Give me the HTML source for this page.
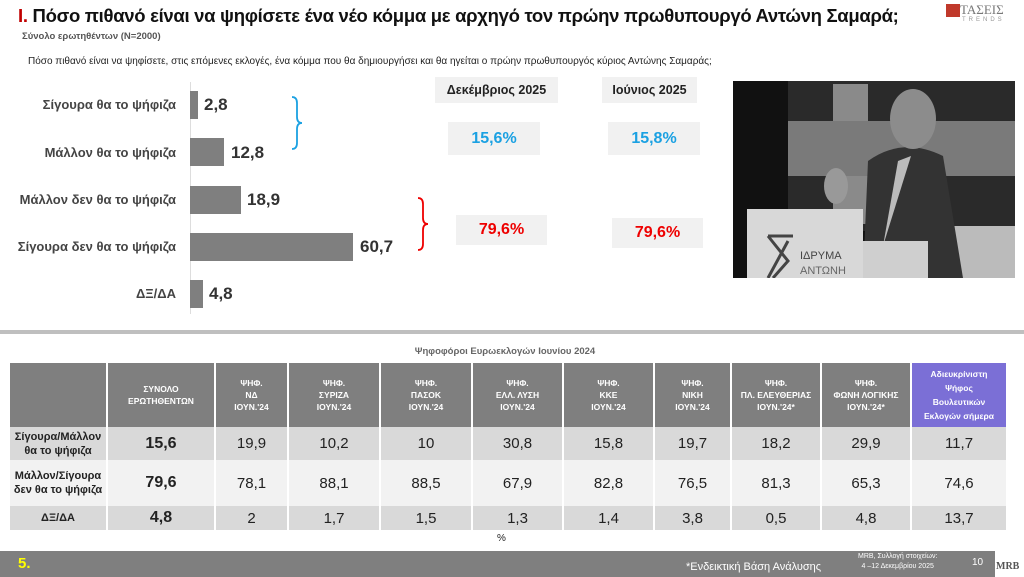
<!DOCTYPE html>
<html><head><meta charset="utf-8"><style>
*{margin:0;padding:0;box-sizing:border-box}
body{width:1024px;height:577px;position:relative;background:#fff;font-family:"Liberation Sans","DejaVu Sans",sans-serif;overflow:hidden;color:#222}
.a{position:absolute}
.lbl{position:absolute;right:848px;font-size:13px;font-weight:bold;color:#444;text-align:right;white-space:nowrap}
.bar{position:absolute;left:190px;background:#7f7f7f;height:28px}
.val{position:absolute;font-size:17px;font-weight:bold;color:#333}
.box{position:absolute;background:#f1f1f1;text-align:center;font-weight:bold}
table{position:absolute;left:10px;top:363px;border-collapse:collapse;table-layout:fixed}
td{text-align:center;border-right:2px solid #fff;padding:0;color:#222}
tr.h td{background:#7f7f7f;color:#fff;font-size:8.5px;font-weight:bold;height:64px;line-height:12px}
tr.r1 td{background:#d9d9d9;height:33px;font-size:15px}
tr.r2 td{background:#f2f2f2;height:46px;font-size:15px}
tr.r3 td{background:#d9d9d9;height:24px;font-size:15px}
tr td.rl{font-size:11px;font-weight:bold;line-height:14px}
tr td.b{font-weight:bold;font-size:16px}
</style></head><body>
<div class="a" style="left:18px;top:5px;font-size:18.5px;font-weight:bold;color:#111;letter-spacing:-0.3px;white-space:nowrap"><span style="color:#c00000">I.</span> Πόσο πιθανό είναι να ψηφίσετε ένα νέο κόμμα με αρχηγό τον πρώην πρωθυπουργό Αντώνη Σαμαρά;</div>
<div class="a" style="left:22px;top:31px;font-size:9.5px;font-weight:bold;color:#555">Σύνολο ερωτηθέντων (N=2000)</div>
<div class="a" style="left:28px;top:56px;font-size:10px;color:#222;white-space:nowrap">Πόσο πιθανό είναι να ψηφίσετε, στις επόμενες εκλογές, ένα κόμμα που θα δημιουργήσει και θα ηγείται ο πρώην πρωθυπουργός κύριος Αντώνης Σαμαράς;</div>
<div class="a" style="left:946px;top:4px;width:14px;height:13px;background:#c0392b"></div>
<div class="a" style="left:960px;top:2px;font-size:13px;font-family:'Liberation Serif',serif;color:#777">ΤΑΣΕΙΣ</div>
<div class="a" style="left:962px;top:17px;font-size:6px;letter-spacing:3px;color:#999">TRENDS</div>

<div class="a" style="left:190px;top:82px;width:1px;height:232px;background:#ddd"></div>
<div class="lbl" style="top:97px">Σίγουρα θα το ψήφιζα</div>
<div class="lbl" style="top:145px">Μάλλον θα το ψήφιζα</div>
<div class="lbl" style="top:192px">Μάλλον δεν θα το ψήφιζα</div>
<div class="lbl" style="top:239px">Σίγουρα δεν θα το ψήφιζα</div>
<div class="lbl" style="top:286px">ΔΞ/ΔΑ</div>
<div class="bar" style="top:91px;width:8px"></div><div class="val" style="left:204px;top:95px">2,8</div>
<div class="bar" style="top:138px;width:34px"></div><div class="val" style="left:231px;top:143px">12,8</div>
<div class="bar" style="top:186px;width:51px"></div><div class="val" style="left:247px;top:190px">18,9</div>
<div class="bar" style="top:233px;width:163px"></div><div class="val" style="left:360px;top:237px">60,7</div>
<div class="bar" style="top:280px;width:13px"></div><div class="val" style="left:209px;top:284px">4,8</div>
<svg class="a" style="left:290px;top:95px" width="14" height="56"><path d="M2 2 Q7 2 7 8 L7 22 Q7 28 12 28 Q7 28 7 34 L7 48 Q7 54 2 54" fill="none" stroke="#1ba1e2" stroke-width="1.8"/></svg>
<svg class="a" style="left:416px;top:196px" width="14" height="56"><path d="M2 2 Q7 2 7 8 L7 22 Q7 28 12 28 Q7 28 7 34 L7 48 Q7 54 2 54" fill="none" stroke="#e00" stroke-width="1.8"/></svg>

<div class="box" style="left:435px;top:77px;width:123px;height:26px;line-height:26px;font-size:12.5px;color:#222">Δεκέμβριος 2025</div>
<div class="box" style="left:602px;top:77px;width:95px;height:26px;line-height:26px;font-size:12.5px;color:#222">Ιούνιος 2025</div>
<div class="box" style="left:448px;top:122px;width:92px;height:33px;line-height:33px;font-size:16px;color:#1ba1e2">15,6%</div>
<div class="box" style="left:608px;top:122px;width:92px;height:33px;line-height:33px;font-size:16px;color:#1ba1e2">15,8%</div>
<div class="box" style="left:456px;top:215px;width:91px;height:30px;line-height:30px;font-size:16px;color:#e00">79,6%</div>
<div class="box" style="left:612px;top:218px;width:91px;height:30px;line-height:30px;font-size:16px;color:#e00">79,6%</div>

<svg class="a" style="left:733px;top:81px" width="282" height="197">
<rect width="282" height="197" fill="#111"/>
<rect x="55" y="0" width="227" height="150" fill="#2a2a2a"/>
<rect x="100" y="3" width="35" height="140" fill="#8a8a8a"/>
<rect x="55" y="40" width="227" height="55" fill="#7a7a7a"/>
<rect x="210" y="145" width="72" height="52" fill="#bbb"/>
<path d="M130 197 L135 80 Q170 55 210 75 L230 197Z" fill="#333"/>
<ellipse cx="180" cy="38" rx="23" ry="30" fill="#8c8c8c"/>
<path d="M165 80 L178 75 L150 165 Z" fill="#bbb"/>
<ellipse cx="103" cy="105" rx="12" ry="18" fill="#999"/>
<rect x="14" y="128" width="116" height="69" fill="#d8d8d8"/>
<rect x="130" y="160" width="65" height="37" fill="#cfcfcf"/>
<path d="M35 155 L60 155 M35 155 L55 180 L40 197 M55 160 L35 197" stroke="#444" stroke-width="3" fill="none"/>
<text x="67" y="178" font-size="11" fill="#444" font-family="Liberation Sans">ΙΔΡΥΜΑ</text>
<text x="67" y="193" font-size="11" fill="#666" font-family="Liberation Sans">ΑΝΤΩΝΗ</text>
</svg>

<div class="a" style="left:0;top:330px;width:1024px;height:4px;background:#bfbfbf"></div>
<div class="a" style="left:0;top:346px;width:1010px;text-align:center;font-size:9.5px;font-weight:bold;color:#666">Ψηφοφόροι Ευρωεκλογών Ιουνίου 2024</div>

<table>
<colgroup><col style="width:97px"><col style="width:108px"><col style="width:73px"><col style="width:92px"><col style="width:92px"><col style="width:91px"><col style="width:91px"><col style="width:77px"><col style="width:90px"><col style="width:90px"><col style="width:96px"></colgroup>
<tr class="h"><td></td><td>ΣΥΝΟΛΟ<br>ΕΡΩΤΗΘΕΝΤΩΝ</td><td>ΨΗΦ.<br>ΝΔ<br>ΙΟΥΝ.'24</td><td>ΨΗΦ.<br>ΣΥΡΙΖΑ<br>ΙΟΥΝ.'24</td><td>ΨΗΦ.<br>ΠΑΣΟΚ<br>ΙΟΥΝ.'24</td><td>ΨΗΦ.<br>ΕΛΛ. ΛΥΣΗ<br>ΙΟΥΝ.'24</td><td>ΨΗΦ.<br>ΚΚΕ<br>ΙΟΥΝ.'24</td><td>ΨΗΦ.<br>ΝΙΚΗ<br>ΙΟΥΝ.'24</td><td>ΨΗΦ.<br>ΠΛ. ΕΛΕΥΘΕΡΙΑΣ<br>ΙΟΥΝ.'24*</td><td>ΨΗΦ.<br>ΦΩΝΗ ΛΟΓΙΚΗΣ<br>ΙΟΥΝ.'24*</td><td style="background:#7b6fd6;line-height:14px">Αδιευκρίνιστη<br>Ψήφος<br>Βουλευτικών<br>Εκλογών σήμερα</td></tr>
<tr class="r1"><td class="rl">Σίγουρα/Μάλλον<br>θα το ψήφιζα</td><td class="b">15,6</td><td>19,9</td><td>10,2</td><td>10</td><td>30,8</td><td>15,8</td><td>19,7</td><td>18,2</td><td>29,9</td><td>11,7</td></tr>
<tr class="r2"><td class="rl">Μάλλον/Σίγουρα<br>δεν θα το ψήφιζα</td><td class="b">79,6</td><td>78,1</td><td>88,1</td><td>88,5</td><td>67,9</td><td>82,8</td><td>76,5</td><td>81,3</td><td>65,3</td><td>74,6</td></tr>
<tr class="r3"><td class="rl">ΔΞ/ΔΑ</td><td class="b">4,8</td><td>2</td><td>1,7</td><td>1,5</td><td>1,3</td><td>1,4</td><td>3,8</td><td>0,5</td><td>4,8</td><td>13,7</td></tr>
</table>
<div class="a" style="left:497px;top:533px;font-size:10px;color:#222">%</div>

<div class="a" style="left:0;top:551px;width:1024px;height:26px;background:#7f7f7f"></div>
<div class="a" style="left:18px;top:555px;font-size:15px;font-weight:bold;color:#ffff00">5.</div>
<div class="a" style="left:686px;top:561px;font-size:11px;color:#fff">*Ενδεικτική Βάση Ανάλυσης</div>
<div class="a" style="left:858px;top:552px;font-size:7px;color:#fff;text-align:center;line-height:10px">MRB, Συλλογή στοιχείων:<br>4 –12 Δεκεμβρίου 2025</div>
<div class="a" style="left:972px;top:557px;font-size:10px;color:#fff">10</div>
<div class="a" style="left:995px;top:551px;width:29px;height:26px;background:#fff"></div>
<div class="a" style="left:996px;top:561px;font-size:10px;font-weight:bold;font-family:'Liberation Serif',serif;color:#555">MRB</div>
</body></html>
